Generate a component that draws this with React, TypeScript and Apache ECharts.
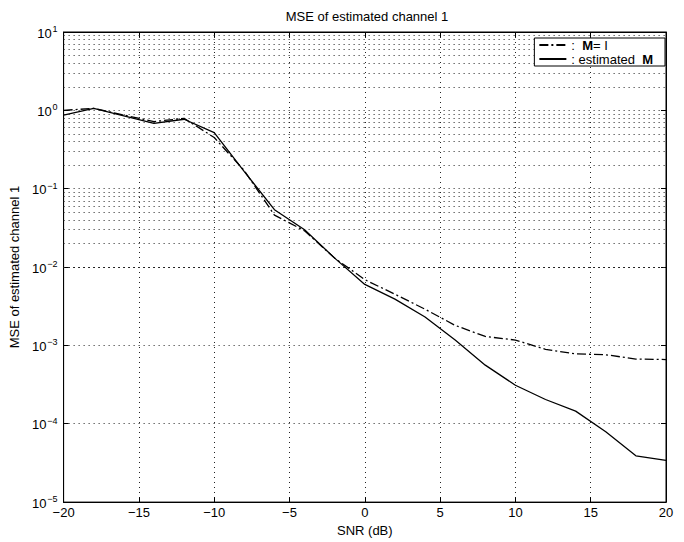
import React, { useEffect, useRef } from "react";
import * as echarts from "echarts";

const snr = [-20, -18, -16, -14, -12, -10, -8, -6, -4, -2, 0, 2, 4, 6, 8, 10, 12, 14, 16, 18, 20];
const mseIdentity = [1.0, 1.06, 0.87, 0.72, 0.79, 0.45, 0.17, 0.046, 0.029, 0.013, 0.0069, 0.0045, 0.0029, 0.0018, 0.0013, 0.00117, 0.00089, 0.00078, 0.00076, 0.00067, 0.00066];
const mseEstimated = [0.87, 1.06, 0.85, 0.68, 0.77, 0.52, 0.165, 0.054, 0.03, 0.013, 0.006, 0.0039, 0.0023, 0.00117, 0.00056, 0.00031, 0.000204, 0.000145, 0.000079, 0.000039, 0.000034];
const decadeExponents = [-5, -4, -3, -2, -1, 0, 1];
const minorMultipliers = [2, 3, 4, 5, 6, 7, 8, 9];

const FONT = "'Liberation Sans', Arial, Helvetica, sans-serif";

function minus(s: string) {
  return s.replace(/-/g, "\u2212");
}

export default function App() {
  const ref = useRef<HTMLDivElement>(null);
  useEffect(() => {
    if (!ref.current) return;
    const chart = echarts.init(ref.current, undefined, { renderer: "svg" });
    const minorLines: any[] = [];
    decadeExponents.slice(0, -1).forEach((e) => {
      minorMultipliers.forEach((m) => {
        minorLines.push({ yAxis: m * Math.pow(10, e) });
      });
    });
    const dotted = { color: "#222", width: 1, type: [1, 4] as any };
    const option: any = {
      animation: false,
      backgroundColor: "#fff",
      textStyle: { fontFamily: FONT, color: "#000" },
      title: {
        text: "MSE of estimated channel 1",
        left: 362,
        textAlign: "center",
        top: 5,
        textStyle: { fontFamily: FONT, fontSize: 13, fontWeight: "normal", color: "#000" },
      },
      grid: {
        left: 58,
        right: 18,
        top: 32,
        bottom: 35,
        show: true,
        borderColor: "#000",
        borderWidth: 1,
        backgroundColor: "transparent",
      },
      legend: {
        orient: "vertical",
        right: 19,
        top: 38,
        padding: [0, 12, 0, 4],
        itemGap: 0,
        itemWidth: 27,
        itemHeight: 12,
        backgroundColor: "#fff",
        borderColor: "#000",
        borderWidth: 1,
        borderRadius: 0,
        itemStyle: { opacity: 0 },
        textStyle: {
          fontFamily: FONT,
          fontSize: 13,
          lineHeight: 14,
          color: "#000",
          rich: { b: { fontWeight: "bold", fontSize: 13, lineHeight: 14, fontFamily: FONT } },
        },
        formatter: (name: string) =>
          name === "M= I" ? ":  {b|M}= I" : ": estimated  {b|M}",
        data: ["M= I", "estimated M"],
      },
      xAxis: [
        {
          type: "value",
          min: -20,
          max: 20,
          interval: 5,
          name: "SNR (dB)",
          nameLocation: "middle",
          nameGap: 19,
          nameTextStyle: { fontFamily: FONT, fontSize: 13, color: "#000" },
          axisLine: { show: true, onZero: false, lineStyle: { color: "#000" } },
          axisTick: { show: true, inside: true, length: 5, lineStyle: { color: "#000" } },
          axisLabel: {
            fontFamily: FONT,
            fontSize: 13,
            color: "#000",
            margin: 4,
            formatter: (v: number) => minus(String(v)),
          },
          splitLine: { show: true, lineStyle: dotted },
        },
        {
          type: "value",
          position: "top",
          min: -20,
          max: 20,
          interval: 5,
          axisLine: { show: true, onZero: false, lineStyle: { color: "#000" } },
          axisTick: { show: true, inside: true, length: 5, lineStyle: { color: "#000" } },
          axisLabel: { show: false },
          splitLine: { show: false },
        },
      ],
      yAxis: [
        {
          type: "log",
          logBase: 10,
          min: 1e-5,
          max: 10,
          interval: 1,
          name: "MSE of estimated channel 1",
          nameLocation: "middle",
          nameGap: 40,
          nameRotate: 90,
          nameTextStyle: { fontFamily: FONT, fontSize: 13, color: "#000" },
          axisLine: { show: true, onZero: false, lineStyle: { color: "#000" } },
          axisTick: { show: true, inside: true, length: 5, lineStyle: { color: "#000" } },
          axisLabel: {
            color: "#000",
            margin: 6,
            formatter: (v: number) => {
              const e = Math.round(Math.log10(v));
              return "{b|10}{e|" + minus(String(e)) + "}";
            },
            rich: {
              b: { fontFamily: FONT, fontSize: 13, color: "#000", verticalAlign: "bottom", lineHeight: 15 },
              e: { fontFamily: FONT, fontSize: 9, color: "#000", verticalAlign: "top", padding: [0, 0, 8, 1], lineHeight: 15 },
            },
          },
          splitLine: { show: true, lineStyle: dotted },
        },
        {
          type: "log",
          logBase: 10,
          min: 1e-5,
          max: 10,
          interval: 1,
          position: "right",
          axisLine: { show: true, onZero: false, lineStyle: { color: "#000" } },
          axisTick: { show: true, inside: true, length: 5, lineStyle: { color: "#000" } },
          axisLabel: { show: false },
          splitLine: { show: false },
        },
      ],
      series: [
        {
          name: "M= I",
          type: "line",
          data: snr.map((x, i) => [x, mseIdentity[i]]),
          showSymbol: false,
          symbol: "none",
          lineStyle: { color: "#000", width: 1.3, type: [9, 3, 2, 3] },
          itemStyle: { color: "#000" },
          z: 5,
        },
        {
          name: "estimated M",
          type: "line",
          data: snr.map((x, i) => [x, mseEstimated[i]]),
          showSymbol: false,
          symbol: "none",
          lineStyle: { color: "#000", width: 1.3, type: "solid" },
          itemStyle: { color: "#000" },
          z: 5,
          markLine: {
            silent: true,
            symbol: ["none", "none"],
            label: { show: false },
            lineStyle: dotted,
            emphasis: { disabled: true },
            data: minorLines,
            z: 1,
          },
        },
      ],
    };
    chart.setOption(option);
    return () => chart.dispose();
  }, []);
  return (
    <div
      ref={ref}
      style={{ position: "fixed", left: 0, top: 0, width: 684, height: 542, background: "#fff" }}
    />
  );
}
